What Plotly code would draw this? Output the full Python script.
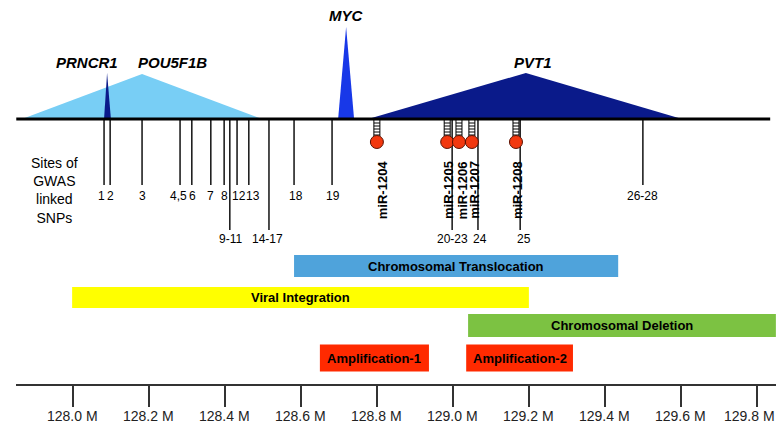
import plotly.graph_objects as go

# ---------------- data (chr8 coordinates, Mb) ----------------
gene_names = ["POU5F1B", "PRNCR1", "MYC", "PVT1"]
gene_start = [127.867, 128.083, 128.699, 128.778]
gene_peak = [128.183, 128.091, 128.720, 129.193]
gene_end = [128.499, 128.101, 128.741, 129.604]
gene_label_pos = [128.262, 128.038, 128.720, 129.212]

snp_labels = ["1", "2", "3", "4,5", "6", "7", "8", "9-11", "12", "13",
              "14-17", "18", "19", "20-23", "24", "25", "26-28"]
snp_pos = [128.083, 128.099, 128.183, 128.283, 128.314, 128.364, 128.399,
           128.414, 128.433, 128.464, 128.517, 128.583, 128.683, 128.999,
           129.067, 129.178, 129.501]
snp_label_pos = [128.075, 128.101, 128.183, 128.278, 128.317, 128.364, 128.399,
                 128.417, 128.438, 128.474, 128.514, 128.588, 128.686, 129.001,
                 129.072, 129.189, 129.501]
snp_long_labels = ["9-11", "14-17", "20-23", "24", "25"]

mir_names = ["miR-1204", "miR-1205", "miR-1206", "miR-1207", "miR-1208"]
mir_pos = [128.801, 128.986, 129.017, 129.051, 129.167]
mir_label_pos = [128.815, 128.988, 129.026, 129.056, 129.170]

event_names = ["Chromosomal Translocation", "Viral Integration",
               "Chromosomal Deletion", "Amplification-1", "Amplification-2"]
event_start = [128.583, 127.999, 129.041, 128.651, 129.036]
event_end = [129.436, 129.201, 129.851, 128.938, 129.317]

region_start = 127.852
region_end = 129.836

tick_vals = [128.0, 128.2, 128.4, 128.6, 128.8, 129.0, 129.2, 129.4, 129.6, 129.8]
tick_labels = ["128.0 M", "128.2 M", "128.4 M", "128.6 M", "128.8 M",
               "129.0 M", "129.2 M", "129.4 M", "129.6 M", "129.8 M"]

# ---------------- styling / layout ----------------
# The page body has an 8px margin on every side, so the figure sits at (8, 8)
# and is sized to fit inside the window without overflow; the y scale below
# is expressed in window pixels.
OFF = 8
WIN_W, WIN_H = 784, 431
W, H = WIN_W - 2 * OFF, WIN_H - 2 * OFF
X0_PX, X1_PX = 16, 776
X_RANGE = [127.8513, 129.8513]
MB_PER_PX = (X_RANGE[1] - X_RANGE[0]) / (X1_PX - X0_PX)

LINE_Y = 119
AXIS_Y = 385
TICK_LABEL_Y = 416
gene_height = [45, 46, 92, 46]
gene_colors = ["#78CEF5", "#0A1A8A", "#1838E8", "#0A1A8A"]
gene_label_y = [62, 62, 15, 62]

SNP_SHORT_END, SNP_LONG_END = 185, 230
SNP_SHORT_LAB, SNP_LONG_LAB = 196, 239

event_y = [266, 297.5, 325.5, 358, 358]
event_h = [22, 21, 23, 27, 27]
event_colors = ["#4FA3DB", "#FFFF00", "#7CC242", "#FF2A00", "#FF2A00"]

SANS = "Liberation Sans, Arial, Helvetica, sans-serif"


def paper_x(px):
    return (px - OFF) / W


fig = go.Figure()

# gene triangles
for name, s, p, e, h, c in zip(gene_names, gene_start, gene_peak, gene_end,
                               gene_height, gene_colors):
    fig.add_trace(go.Scatter(x=[s, p, e, s], y=[LINE_Y, LINE_Y - h, LINE_Y, LINE_Y],
                             fill="toself", fillcolor=c, mode="lines",
                             line=dict(width=0, color=c), hoverinfo="skip",
                             showlegend=False))

# main chromosome line
fig.add_trace(go.Scatter(x=[region_start, region_end], y=[LINE_Y, LINE_Y],
                         mode="lines", line=dict(color="black", width=3),
                         hoverinfo="skip", showlegend=False))

# SNP lines
sx, sy = [], []
for lab, pos in zip(snp_labels, snp_pos):
    end = SNP_LONG_END if lab in snp_long_labels else SNP_SHORT_END
    sx += [pos, pos, None]
    sy += [LINE_Y + 1, end, None]
fig.add_trace(go.Scatter(x=sx, y=sy, mode="lines",
                         line=dict(color="black", width=1.4),
                         hoverinfo="skip", showlegend=False))

# miRNA hairpins
dx = 3 * MB_PER_PX
hx, hy = [], []
for m in mir_pos:
    hx += [m - dx, m - dx, None, m + dx, m + dx, None]
    hy += [LINE_Y + 1, 136, None, LINE_Y + 1, 136, None]
    for ry in [123, 126, 129, 132, 135]:
        hx += [m - dx, m + dx, None]
        hy += [ry, ry, None]
fig.add_trace(go.Scatter(x=hx, y=hy, mode="lines",
                         line=dict(color="black", width=1),
                         hoverinfo="skip", showlegend=False))
fig.add_trace(go.Scatter(x=mir_pos, y=[142] * len(mir_pos), mode="markers",
                         marker=dict(size=13, color="#F2380F",
                                     line=dict(color="#5A1000", width=1)),
                         hoverinfo="skip", showlegend=False))

# event bars
for name, s, e, yc, h, c in zip(event_names, event_start, event_end,
                                event_y, event_h, event_colors):
    fig.add_trace(go.Bar(x=[e - s], base=[s], y=[yc], width=[h], orientation="h",
                         marker=dict(color=c, line=dict(width=0)),
                         hoverinfo="skip", showlegend=False))
    fig.add_annotation(x=(s + e) / 2, y=yc, text=f"<b>{name}</b>", showarrow=False,
                       xanchor="center", yanchor="middle",
                       font=dict(family=SANS, size=13, color="black"))

for name, pos, y in zip(gene_names, gene_label_pos, gene_label_y):
    fig.add_annotation(x=pos, y=y, text=f"<b><i>{name}</i></b>", showarrow=False,
                       xanchor="center", yanchor="middle",
                       font=dict(family=SANS, size=15, color="black"))

for lab, pos in zip(snp_labels, snp_label_pos):
    y = SNP_LONG_LAB if lab in snp_long_labels else SNP_SHORT_LAB
    fig.add_annotation(x=pos, y=y, text=lab, showarrow=False,
                       xanchor="center", yanchor="middle",
                       font=dict(family=SANS, size=12, color="black"))

for name, pos in zip(mir_names, mir_label_pos):
    fig.add_annotation(x=pos, y=190, text=f"<b>{name}</b>", textangle=-90,
                       showarrow=False, xanchor="center", yanchor="middle",
                       font=dict(family=SANS, size=13, color="black"))

fig.add_annotation(xref="paper", x=paper_x(54), y=190,
                   text="Sites of<br>GWAS<br>linked<br>SNPs", showarrow=False,
                   xanchor="center", yanchor="middle", align="center",
                   font=dict(family=SANS, size=14, color="black"))

# bottom axis tick labels (kept inside the figure; the last one nudged left)
for i, (val, lab) in enumerate(zip(tick_vals, tick_labels)):
    fig.add_annotation(x=val, y=TICK_LABEL_Y, text=lab, showarrow=False,
                       xanchor="center", yanchor="middle",
                       xshift=-7 if i == len(tick_vals) - 1 else 0,
                       font=dict(family=SANS, size=14, color="#222222"))

fig.update_layout(
    width=W, height=H, margin=dict(l=0, r=0, t=0, b=0),
    paper_bgcolor="white", plot_bgcolor="white",
    barmode="overlay",
    xaxis=dict(domain=[paper_x(X0_PX), min(1.0, paper_x(X1_PX))], range=X_RANGE,
               anchor="free", position=(OFF + H - AXIS_Y) / H,
               showgrid=False, zeroline=False,
               showline=True, linecolor="#333333", linewidth=2,
               ticks="outside", ticklen=21, tickwidth=1.5, tickcolor="#333333",
               tickvals=tick_vals, showticklabels=False),
    yaxis=dict(range=[OFF + H, OFF], domain=[0, 1], visible=False, showgrid=False,
               zeroline=False),
)

fig.write_html("out.html", config={"displayModeBar": False})
